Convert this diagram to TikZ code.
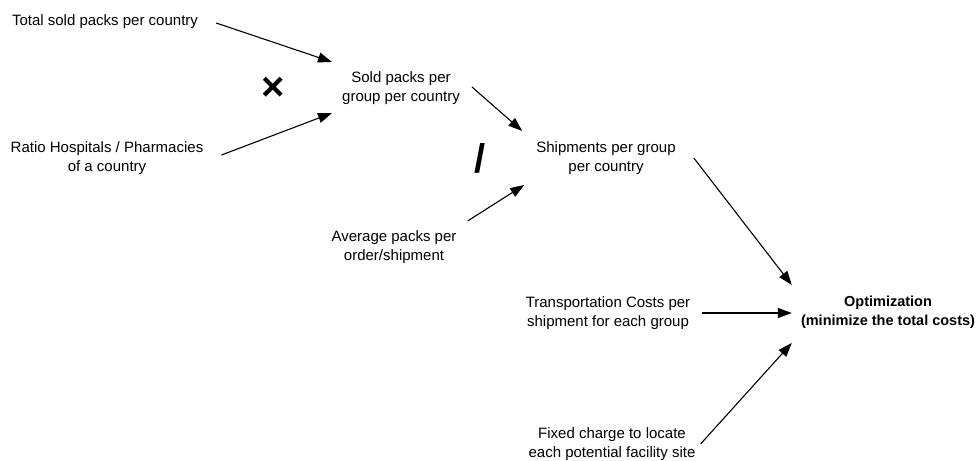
\documentclass[tikz,border=0pt]{standalone}
\usepackage{fontspec}
\setmainfont{Liberation Sans}
\usetikzlibrary{arrows.meta,calc}
\tikzset{
  lbl/.style={inner sep=0pt, align=center, font=\fontsize{15}{18.5}\selectfont},
  op/.style={inner sep=0pt, font=\bfseries\fontsize{40}{40}\selectfont},
  arr/.style={line width=1.1pt, -{Triangle[length=14pt,width=10pt]}}
}
\begin{document}
\begin{tikzpicture}[x=1pt,y=-1pt]
\useasboundingbox (0,0) rectangle (976,460);
% input and intermediate quantities
\node[lbl] (total) at (105,22) {Total sold packs per country};
\node[lbl] (ratio) at (107,158) {Ratio Hospitals / Pharmacies\\of a country};
\node[lbl] (sold)  at (401,88) {Sold packs per\\group per country};
\node[lbl] (ship)  at (606,158) {Shipments per group\\per country};
\node[lbl] (avg)   at (394,247) {Average packs per\\order/shipment};
\node[lbl] (trans) at (608,313) {Transportation Costs per\\shipment for each group};
\node[lbl] (fixed) at (612,444) {Fixed charge to locate\\each potential facility site};
\node[lbl,font=\bfseries\fontsize{14.5}{18.5}\selectfont] (opt) at (888,312) {Optimization\\(minimize the total costs)};
% operators
\node[op] (times) at (273,89) {×};
\node[op] (divide) at (480,158) {/};
% connectors
\draw[arr] ($(total.east)+(18,1)$) -- ($(sold.west)+(-10,-26)$);
\draw[arr] ($(ratio.east)+(18,-3)$) -- ($(sold.west)+(-10,25)$);
\draw[arr] ($(sold.east)+(12,-1)$) -- ($(ship.west)+(-14,-27)$);
\draw[arr] ($(avg.east)+(11,-26)$) -- ($(ship.west)+(-12,27)$);
\draw[arr] ($(ship.east)+(18,0)$) -- ($(opt.west)+(-9,-27)$);
\draw[arr] ($(trans.east)+(12,0)$) -- ($(opt.west)+(-9,1)$);
\draw[arr] ($(fixed.east)+(5,0)$) -- ($(opt.west)+(-9,31)$);
\end{tikzpicture}
\end{document}
